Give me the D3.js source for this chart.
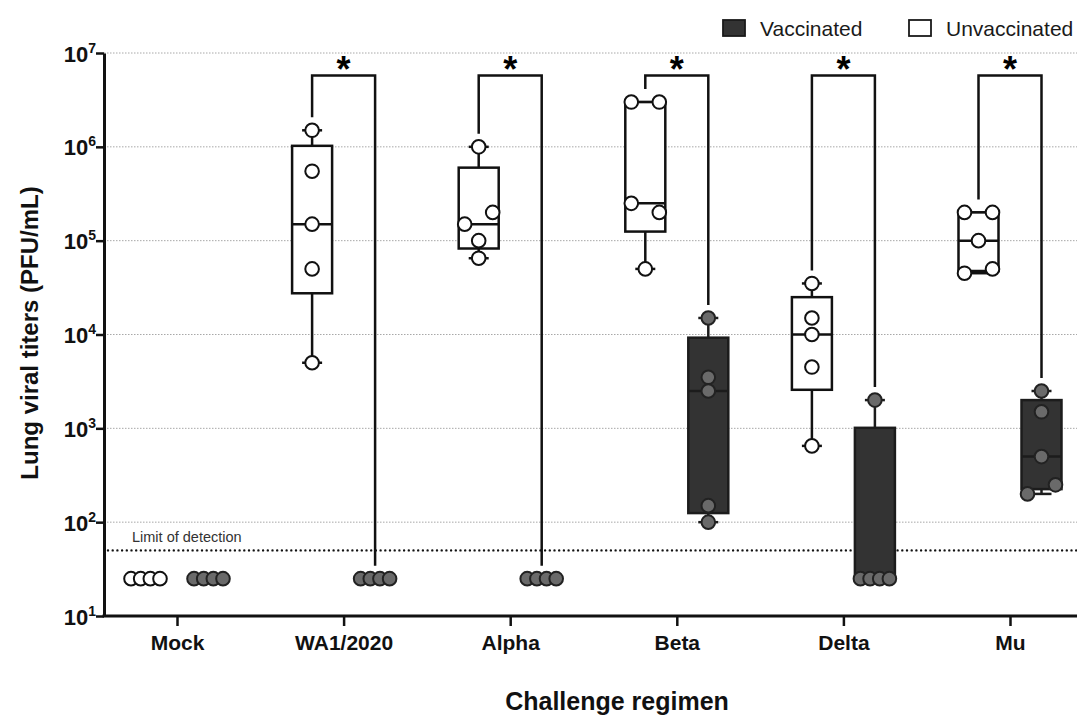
<!DOCTYPE html>
<html>
<head>
<meta charset="utf-8">
<script src="https://cdn.jsdelivr.net/npm/d3@7"></script>
<style>
  body { margin: 0; background: #fff; }
  text { font-family: "Liberation Sans", Arial, Helvetica, sans-serif; }
</style>
</head>
<body>
<svg id="chart" width="1077" height="716"></svg>
<script>
// values (PFU/mL), one array per mouse group
const categories = ['Mock', 'WA1/2020', 'Alpha', 'Beta', 'Delta', 'Mu'];
const unvaccinated = [
  [25, 25, 25, 25],
  [1.5e6, 5.5e5, 1.5e5, 5e4, 5e3],
  [1e6, 1.5e5, 2e5, 1e5, 6.5e4],
  [3e6, 3e6, 2.5e5, 2e5, 5e4],
  [3.5e4, 1.5e4, 1e4, 4.5e3, 650],
  [2e5, 2e5, 1e5, 4.5e4, 5e4]
];
const vaccinated = [
  [25, 25, 25, 25],
  [25, 25, 25, 25],
  [25, 25, 25, 25],
  [1.5e4, 3.5e3, 2.5e3, 150, 100],
  [2000, 25, 25, 25, 25],
  [2500, 1500, 500, 200, 250]
];
const significance = ['', '*', '*', '*', '*', '*'];
const yTickValues = [1e1, 1e2, 1e3, 1e4, 1e5, 1e6, 1e7];
const limitOfDetection = 50;

const svg = d3.select('#chart');
const width = 1077;
const axisX = 104, plotTop = 53, plotBottom = 616;
const groupOffset = 31.5;   // distance of each box from the category tick
const boxHalf = 20, capHalf = 10, r = 6.8;

const y = d3.scaleLog().domain([10, 1e7]).range([plotBottom, plotTop]);
const x = d3.scalePoint().domain(categories).range([177, 1010]);

// quartiles the way Prism does it ((n+1)p)
function quartile(sorted, p) {
  const n = sorted.length;
  const pos = (n + 1) * p;
  if (pos <= 1) return sorted[0];
  if (pos >= n) return sorted[n - 1];
  const lo = Math.floor(pos), frac = pos - lo;
  return sorted[lo - 1] + frac * (sorted[lo] - sorted[lo - 1]);
}

// spread points that would sit on top of each other
function spread(values) {
  const ys = values.map(v => y(v));
  const order = d3.range(values.length).sort((a, b) => ys[a] - ys[b] || a - b);
  const clusters = [];
  order.forEach(i => {
    const last = clusters[clusters.length - 1];
    if (last && ys[i] - ys[last[last.length - 1]] < 13) last.push(i);
    else clusters.push([i]);
  });
  const offsets = values.map(() => 0);
  clusters.forEach(c => {
    if (c.length < 2) return;
    c.sort((a, b) => a - b);
    const step = Math.min(28, 29 / (c.length - 1));
    c.forEach((i, k) => offsets[i] = (k - (c.length - 1) / 2) * step);
  });
  return offsets;
}

// gridlines
svg.append('g')
  .selectAll('line')
  .data(yTickValues.slice(1))
  .enter()
  .append('line')
  .attr('x1', axisX).attr('x2', width)
  .attr('y1', d => y(d)).attr('y2', d => y(d))
  .attr('stroke', '#a8a8a8')
  .attr('stroke-width', 1)
  .attr('stroke-dasharray', '1.5,1.5');

// limit of detection
svg.append('line')
  .attr('x1', axisX + 4).attr('x2', width)
  .attr('y1', y(limitOfDetection)).attr('y2', y(limitOfDetection))
  .attr('stroke', '#111')
  .attr('stroke-width', 2.4)
  .attr('stroke-linecap', 'round')
  .attr('stroke-dasharray', '0,4.7');

svg.append('text')
  .attr('x', 132).attr('y', y(limitOfDetection) - 8)
  .attr('font-size', 14.5)
  .attr('fill', '#333')
  .text('Limit of detection');

const groups = [];
categories.forEach((cat, i) => {
  groups.push({ cat, values: unvaccinated[i], cx: x(cat) - groupOffset, vacc: false });
  groups.push({ cat, values: vaccinated[i], cx: x(cat) + groupOffset, vacc: true });
});

// whiskers + boxes
groups.forEach(g => {
  const s = g.values.slice().sort((a, b) => a - b);
  const q1 = quartile(s, 0.25), med = quartile(s, 0.5), q3 = quartile(s, 0.75);
  const lo = s[0], hi = s[s.length - 1];
  const stroke = g.vacc ? '#1c1c1c' : '#111';
  const gg = svg.append('g').attr('stroke', stroke).attr('stroke-width', 2.5);

  gg.append('line').attr('x1', g.cx).attr('x2', g.cx).attr('y1', y(hi)).attr('y2', y(q3));
  gg.append('line').attr('x1', g.cx).attr('x2', g.cx).attr('y1', y(q1)).attr('y2', y(lo));
  [lo, hi].forEach(v => {
    gg.append('line')
      .attr('x1', g.cx - capHalf).attr('x2', g.cx + capHalf)
      .attr('y1', y(v)).attr('y2', y(v));
  });
  gg.append('rect')
    .attr('x', g.cx - boxHalf).attr('width', boxHalf * 2)
    .attr('y', y(q3)).attr('height', y(q1) - y(q3))
    .attr('fill', g.vacc ? '#333' : '#fff');
  gg.append('line')
    .attr('x1', g.cx - boxHalf).attr('x2', g.cx + boxHalf)
    .attr('y1', y(med)).attr('y2', y(med));
});

// points
groups.forEach(g => {
  const off = spread(g.values);
  svg.append('g')
    .selectAll('circle')
    .data(g.values)
    .enter()
    .append('circle')
    .attr('cx', (d, i) => g.cx + off[i])
    .attr('cy', d => y(d))
    .attr('r', r)
    .attr('fill', g.vacc ? '#6a6a6a' : '#fff')
    .attr('stroke', g.vacc ? '#222' : '#111')
    .attr('stroke-width', 2);
});

// significance brackets
const bracketY = 75.5;
categories.forEach((cat, i) => {
  if (!significance[i]) return;
  const lx = x(cat) - groupOffset, rx = x(cat) + groupOffset;
  const ly = y(d3.max(unvaccinated[i])) - 13;
  const ry = y(d3.max(vaccinated[i])) - 13;
  svg.append('path')
    .attr('d', `M${lx},${ly}V${bracketY}H${rx}V${ry}`)
    .attr('fill', 'none')
    .attr('stroke', '#111')
    .attr('stroke-width', 2.5);
  svg.append('text')
    .attr('x', x(cat)).attr('y', 82)
    .attr('text-anchor', 'middle')
    .attr('font-size', 36)
    .attr('font-weight', 'bold')
    .text(significance[i]);
});

// y axis
const yAxis = svg.append('g')
  .attr('transform', `translate(${axisX},0)`)
  .call(d3.axisLeft(y).tickValues(yTickValues).tickSize(8).tickSizeOuter(0).tickPadding(8).tickFormat(''));
yAxis.select('.domain').attr('stroke', '#111').attr('stroke-width', 3);
yAxis.selectAll('.tick line').attr('stroke', '#111').attr('stroke-width', 2.5);
yAxis.selectAll('.tick text').remove();
yAxis.selectAll('.tick').append('text')
  .attr('x', -8).attr('dy', 8)
  .attr('text-anchor', 'end')
  .attr('fill', '#111')
  .attr('font-weight', 'bold')
  .each(function(d) {
    const t = d3.select(this);
    t.append('tspan').attr('font-size', 22).text('10');
    t.append('tspan').attr('font-size', 14).attr('dy', -9).text(Math.round(Math.log10(d)));
  });

// x axis
const xAxis = svg.append('g')
  .attr('transform', `translate(0,${plotBottom})`)
  .call(d3.axisBottom(x).tickSize(10).tickSizeOuter(0).tickPadding(9));
xAxis.select('.domain').remove();
xAxis.selectAll('.tick line').attr('stroke', '#111').attr('stroke-width', 2.5);
xAxis.selectAll('.tick text')
  .attr('font-size', 21)
  .attr('font-weight', 'bold')
  .attr('fill', '#111');
svg.append('line')
  .attr('x1', axisX - 1.5).attr('x2', width)
  .attr('y1', plotBottom).attr('y2', plotBottom)
  .attr('stroke', '#111')
  .attr('stroke-width', 3);

// axis titles
svg.append('text')
  .attr('transform', `translate(38,333) rotate(-90)`)
  .attr('text-anchor', 'middle')
  .attr('font-size', 24)
  .attr('font-weight', 'bold')
  .attr('fill', '#111')
  .text('Lung viral titers (PFU/mL)');

svg.append('text')
  .attr('x', 617).attr('y', 710)
  .attr('text-anchor', 'middle')
  .attr('font-size', 25)
  .attr('font-weight', 'bold')
  .attr('fill', '#111')
  .text('Challenge regimen');

// legend
const legend = [
  { label: 'Vaccinated', fill: '#333', x: 723 },
  { label: 'Unvaccinated', fill: '#fff', x: 909 }
];
legend.forEach(l => {
  svg.append('rect')
    .attr('x', l.x).attr('y', 20)
    .attr('width', 22).attr('height', 16)
    .attr('fill', l.fill)
    .attr('stroke', '#1a1a1a')
    .attr('stroke-width', 1.8);
  svg.append('text')
    .attr('x', l.x + 37).attr('y', 36)
    .attr('font-size', 21)
    .attr('fill', '#1a1a1a')
    .text(l.label);
});
</script>
</body>
</html>
